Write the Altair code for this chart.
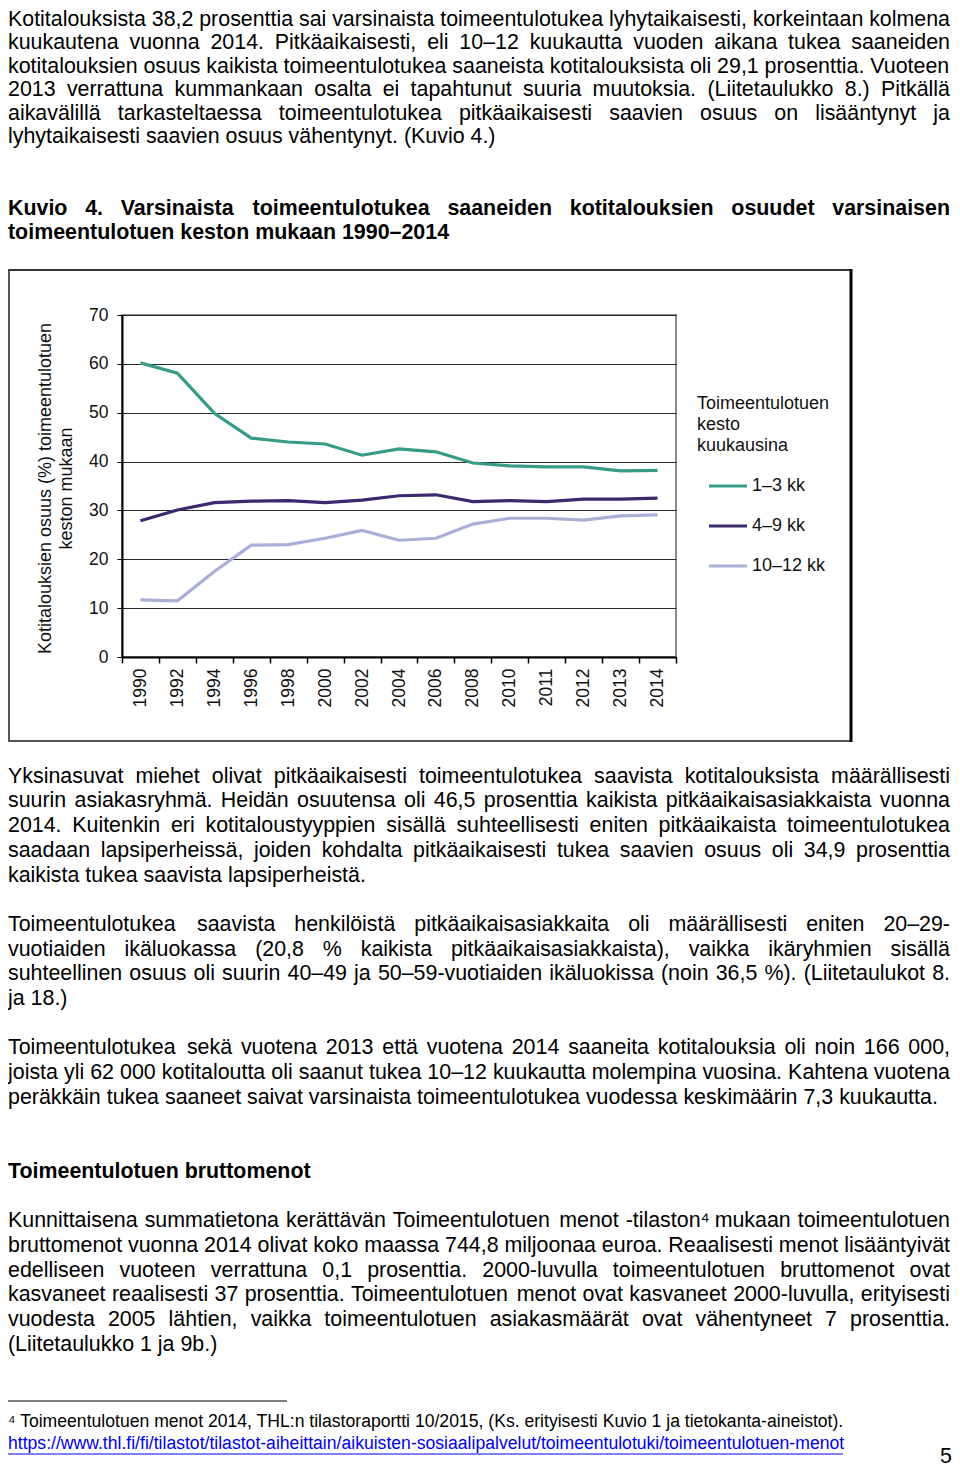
import altair as alt
import pandas as pd

FONT = "Liberation Sans"

# ---------------- chart data ----------------
years = ["1990", "1992", "1994", "1996", "1998", "2000", "2002", "2004",
         "2006", "2008", "2010", "2011", "2012", "2013", "2014"]
series_names = ["1–3 kk", "4–9 kk", "10–12 kk"]
series_colors = ["#379b87", "#3c286e", "#aaafd7"]
v_1_3 = [60.2, 58.1, 49.9, 44.8, 44.0, 43.6, 41.3, 42.6, 42.0, 39.7, 39.1, 38.9, 38.9, 38.1, 38.2]
v_4_9 = [27.9, 30.1, 31.6, 31.9, 32.0, 31.6, 32.1, 33.0, 33.2, 31.8, 32.0, 31.8, 32.3, 32.3, 32.5]
v_10_12 = [11.7, 11.5, 17.5, 22.9, 23.0, 24.3, 25.9, 23.9, 24.3, 27.2, 28.4, 28.4, 28.0, 28.9, 29.1]
y_ticks = [0, 10, 20, 30, 40, 50, 60, 70]
y_title = ["Kotitalouksien osuus (%) toimeentulotuen", "keston mukaan"]
legend_title = ["Toimeentulotuen", "kesto", "kuukausina"]

# ---------------- page text (line slot, text) ----------------
body_lines = [
    (0.37, "Kotitalouksista 38,2 prosenttia sai varsinaista toimeentulotukea lyhytaikaisesti, korkeintaan kolmena"),
    (1.3, "kuukautena vuonna 2014. Pitkäaikaisesti, eli 10–12 kuukautta vuoden aikana tukea saaneiden"),
    (2.25, "kotitalouksien osuus kaikista toimeentulotukea saaneista kotitalouksista oli 29,1 prosenttia. Vuoteen"),
    (3.2, "2013 verrattuna kummankaan osalta ei tapahtunut suuria muutoksia. (Liitetaulukko 8.) Pitkällä"),
    (4.15, "aikavälillä tarkasteltaessa toimeentulotukea pitkäaikaisesti saavien osuus on lisääntynyt ja"),
    (5.1, "lyhytaikaisesti saavien osuus vähentynyt. (Kuvio 4.)"),
    (31, "Yksinasuvat miehet olivat pitkäaikaisesti toimeentulotukea saavista kotitalouksista määrällisesti"),
    (32, "suurin asiakasryhmä. Heidän osuutensa oli 46,5 prosenttia kaikista pitkäaikaisasiakkaista vuonna"),
    (33, "2014. Kuitenkin eri kotitaloustyyppien sisällä suhteellisesti eniten pitkäaikaista toimeentulotukea"),
    (34, "saadaan lapsiperheissä, joiden kohdalta pitkäaikaisesti tukea saavien osuus oli 34,9 prosenttia"),
    (35, "kaikista tukea saavista lapsiperheistä."),
    (37, "Toimeentulotukea saavista henkilöistä pitkäaikaisasiakkaita oli määrällisesti eniten 20–29-"),
    (38, "vuotiaiden ikäluokassa (20,8 % kaikista pitkäaikaisasiakkaista), vaikka ikäryhmien sisällä"),
    (39, "suhteellinen osuus oli suurin 40–49 ja 50–59-vuotiaiden ikäluokissa (noin 36,5 %). (Liitetaulukot 8."),
    (40, "ja 18.)"),
    (42, "Toimeentulotukea sekä vuotena 2013 että vuotena 2014 saaneita kotitalouksia oli noin 166 000,"),
    (43, "joista yli 62 000 kotitaloutta oli saanut tukea 10–12 kuukautta molempina vuosina. Kahtena vuotena"),
    (44, "peräkkäin tukea saaneet saivat varsinaista toimeentulotukea vuodessa keskimäärin 7,3 kuukautta."),
    (49, "Kunnittaisena summatietona kerättävän Toimeentulotuen menot -tilaston⁴ mukaan toimeentulotuen"),
    (50, "bruttomenot vuonna 2014 olivat koko maassa 744,8 miljoonaa euroa. Reaalisesti menot lisääntyivät"),
    (51, "edelliseen vuoteen verrattuna 0,1 prosenttia. 2000-luvulla toimeentulotuen bruttomenot ovat"),
    (52, "kasvaneet reaalisesti 37 prosenttia. Toimeentulotuen menot ovat kasvaneet 2000-luvulla, erityisesti"),
    (53, "vuodesta 2005 lähtien, vaikka toimeentulotuen asiakasmäärät ovat vähentyneet 7 prosenttia."),
    (54, "(Liitetaulukko 1 ja 9b.)"),
]
body_justified = {0.37, 1.3, 2.25, 3.2, 4.15, 31, 32, 33, 34, 37, 38, 39, 42, 43, 49, 50, 51, 52, 53}
bold_lines = [
    (8, "Kuvio 4. Varsinaista toimeentulotukea saaneiden kotitalouksien osuudet varsinaisen"),
    (9, "toimeentulotuen keston mukaan 1990–2014"),
    (47, "Toimeentulotuen bruttomenot"),
]
bold_justified = {8}
foot_lines = [
    (57.12, "⁴ Toimeentulotuen menot 2014, THL:n tilastoraportti 10/2015,  (Ks. erityisesti Kuvio 1 ja tietokanta-aineistot)."),
]
link_lines = [
    (58.02, "https://www.thl.fi/fi/tilastot/tilastot-aiheittain/aikuisten-sosiaalipalvelut/toimeentulotuki/toimeentulotuen-menot"),
]
page_number = [(58.55, "5")]

# ---------------- text metrics for justification (Arial / Liberation Sans, per 1000 em) ----------------
_W_REG = {" ": 278, "!": 278, "%": 889, "(": 333, ")": 333, ",": 278, "-": 333, ".": 278,
          "/": 278, ":": 278, "–": 556, "⁴": 333, "ä": 556, "ö": 556}
for _c, _w in zip("ABCDEFGHIJKLMNOPQRSTUVWXYZ",
                  [667, 667, 722, 722, 667, 611, 778, 722, 278, 500, 667, 556, 833, 722, 778,
                   667, 778, 722, 667, 611, 722, 667, 944, 667, 667, 611]):
    _W_REG[_c] = _w
for _c, _w in zip("abcdefghijklmnopqrstuvwxyz",
                  [556, 556, 500, 556, 556, 278, 556, 556, 222, 222, 500, 222, 833, 556, 556,
                   556, 556, 333, 500, 278, 556, 500, 722, 500, 500, 500]):
    _W_REG[_c] = _w
_W_BOLD = {" ": 278, "(": 333, ")": 333, ",": 278, "-": 333, ".": 278, "–": 556, "ä": 556, "ö": 611}
for _c, _w in zip("ABCDEFGHIJKLMNOPQRSTUVWXYZ",
                  [722, 722, 722, 722, 667, 611, 778, 722, 278, 556, 722, 611, 833, 722, 778,
                   667, 778, 722, 667, 611, 722, 667, 944, 667, 667, 611]):
    _W_BOLD[_c] = _w
for _c, _w in zip("abcdefghijklmnopqrstuvwxyz",
                  [556, 611, 556, 611, 556, 333, 611, 611, 278, 278, 556, 278, 889, 611, 611,
                   611, 611, 389, 556, 333, 611, 556, 778, 556, 556, 500]):
    _W_BOLD[_c] = _w
for _d in "0123456789":
    _W_REG[_d] = 556
    _W_BOLD[_d] = 556

BODY_SIZE = 21.4
TEXT_WIDTH = 942.0  # usable line width in px (page x 8 .. 950)


def _width(s, table, size):
    return sum(table.get(c, 556) for c in s) * size / 1000.0


def layout(lines, justified, table, size):
    """Split justified lines into words spread across the text width."""
    rows = []
    for slot, line in lines:
        if slot in justified:
            words = line.split(" ")
            widths = [_width(w, table, size) for w in words]
            gap = (TEXT_WIDTH - sum(widths)) / (len(words) - 1)
            pos = 0.0
            for w, wd in zip(words, widths):
                rows.append({"slot": slot, "xw": pos, "line": w})
                pos += wd + gap
        else:
            rows.append({"slot": slot, "xw": 0.0, "line": line})
    return pd.DataFrame(rows)


# ---------------- build data frames ----------------
rows = []
for name, vals in zip(series_names, [v_1_3, v_4_9, v_10_12]):
    for yr, v in zip(years, vals):
        rows.append({"year": yr, "series": name, "value": v})
df = pd.DataFrame(rows)

N_SLOTS = 59
LINE_H = 24.7
slot_scale = alt.Scale(domain=[0, N_SLOTS], range=[-304, -304 + N_SLOTS * LINE_H])
x_text_scale = alt.Scale(domain=[0, 944], range=[-114, 830])


def text_layer(tdf, size, weight="normal", color="#000000", align="left"):
    return alt.Chart(tdf).mark_text(
        align=align, baseline="middle", font=FONT, fontSize=size,
        fontWeight=weight, color=color
    ).encode(
        x=alt.X("xw:Q", scale=x_text_scale, axis=None),
        y=alt.Y("slot:Q", scale=slot_scale, axis=None),
        text="line:N",
    )


def plain(lines, xw=0.0):
    return pd.DataFrame({"slot": [a for a, _ in lines], "xw": [xw] * len(lines),
                         "line": [b for _, b in lines]})


one = pd.DataFrame({"a": [0]})

# frame around the figure image
box = alt.Chart(one).mark_rect(fillOpacity=0, stroke="#555555", strokeWidth=2).encode(
    x=alt.value(-113), x2=alt.value(729), y=alt.value(-45), y2=alt.value(426)
)
box_right = alt.Chart(one).mark_rule(color="#000000", strokeWidth=3).encode(
    x=alt.value(729), y=alt.value(-46), y2=alt.value(427)
)
box_top = alt.Chart(one).mark_rule(color="#333333", strokeWidth=2).encode(
    x=alt.value(-113), x2=alt.value(729), y=alt.value(-45)
)

lines = alt.Chart(df).mark_line(strokeWidth=3.2).encode(
    x=alt.X(
        "year:O", sort=years,
        scale=alt.Scale(type="band", paddingInner=0, paddingOuter=0),
        axis=alt.Axis(
            title=None, labelAngle=270, tickBand="extent", tickSize=6,
            labelPadding=5, domainColor="#000000", domainWidth=2,
            tickColor="#000000", tickWidth=1.5, labelFontSize=17.5,
            labelFont=FONT, labelColor="#111111", grid=False,
        ),
    ),
    y=alt.Y(
        "value:Q", scale=alt.Scale(domain=[0, 70]),
        axis=alt.Axis(
            values=y_ticks, title=y_title, titleFont=FONT, titleFontSize=18,
            titleFontWeight="normal", titleColor="#111111", titleLineHeight=21,
            titleAngle=270, titleBaseline="middle", titleAlign="center",
            titleX=-77, titleY=173,
            grid=True, gridColor="#2a2a2a", gridWidth=1.2,
            domainColor="#000000", domainWidth=2, tickColor="#000000",
            tickSize=5, labelPadding=9, labelFontSize=17.5, labelFont=FONT,
            labelColor="#111111",
        ),
    ),
    color=alt.Color(
        "series:N",
        scale=alt.Scale(domain=series_names, range=series_colors),
        legend=alt.Legend(
            orient="none", legendX=575, legendY=80, title=legend_title,
            titleFont=FONT, titleFontSize=18, titleFontWeight="normal",
            titleColor="#111111", titleLineHeight=21, titlePadding=10,
            symbolType="stroke", symbolSize=1444, symbolStrokeWidth=3.2,
            symbolOffset=10, labelOffset=3, labelFont=FONT, labelFontSize=18,
            labelColor="#111111", rowPadding=10, padding=0,
        ),
    ),
)

body = text_layer(layout(body_lines, body_justified, _W_REG, BODY_SIZE), BODY_SIZE)
bold = text_layer(layout(bold_lines, bold_justified, _W_BOLD, BODY_SIZE), BODY_SIZE, weight="bold")
foot = text_layer(plain(foot_lines), 17.6)
link = text_layer(plain(link_lines), 17.6, color="#0000ee")
pnum = text_layer(plain(page_number, xw=944), BODY_SIZE, align="right")

sep = alt.Chart(one).mark_rule(color="#000000", strokeWidth=1).encode(
    x=alt.value(-114), x2=alt.value(165), y=alt.value(1086)
)
underline = alt.Chart(one).mark_rule(color="#0000ee", strokeWidth=1).encode(
    x=alt.value(-114), x2=alt.value(721), y=alt.value(1139)
)

chart = alt.layer(
    box, box_top, box_right, lines, body, bold, foot, link, pnum, sep, underline
).resolve_scale(
    x="independent", y="independent"
).properties(
    width=554, height=342,
    padding={"left": 114, "top": 307, "right": 276, "bottom": 811},
    autosize=alt.AutoSizeParams(type="none"),
).configure_view(
    stroke="#8a8a8a", strokeWidth=2
)

chart.save("out.html", embed_options={"renderer": "svg", "actions": False})
